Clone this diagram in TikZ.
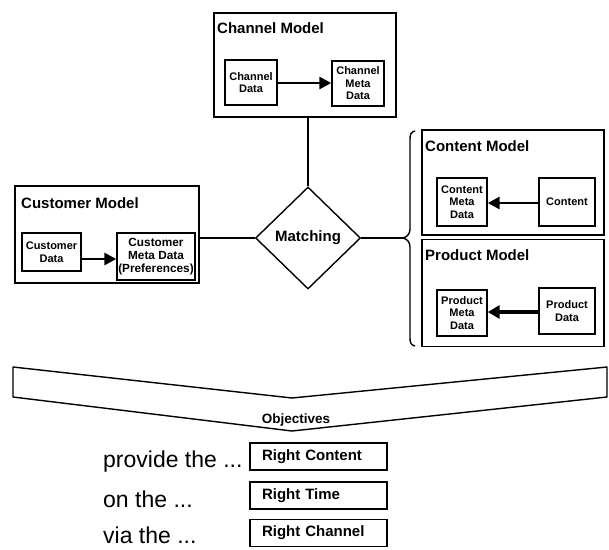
\documentclass[tikz,border=0pt]{standalone}
\usepackage{fontspec}
\setmainfont{Liberation Sans}
\usetikzlibrary{shapes.geometric,arrows.meta}
\tikzset{
  modelbox/.style={draw, line width=1.6pt, inner sep=0pt},
  databox/.style={draw, line width=1.4pt, inner sep=0pt, align=center,
    font=\bfseries\fontsize{11}{12.5}\selectfont},
  title/.style={anchor=west, inner sep=0pt, font=\bfseries\fontsize{15}{17}\selectfont},
  arr/.style={line width=2.8pt, -{Triangle[length=12pt,width=12pt]}},
  thickarr/.style={line width=3.8pt, -{Triangle[length=12pt,width=13pt]}},
  link/.style={line width=1.4pt},
  goalbox/.style={draw, line width=1.4pt, minimum width=137pt, minimum height=27pt,
    inner sep=0pt, text width=113pt, align=left, font=\bfseries\fontsize{15}{17}\selectfont},
  phrase/.style={anchor=west, inner sep=0pt, font=\fontsize{23}{26}\selectfont},
}
\begin{document}
\begin{tikzpicture}[x=1pt,y=-1pt]
\useasboundingbox (0,0) rectangle (609,549);

% Channel model
\node[modelbox, minimum width=182pt, minimum height=104pt] (chbox) at (305,65) {};
\node[title] (chtitle) at (217,28) {Channel Model};
\node[databox, minimum width=52pt, minimum height=45pt] (chd) at (251,82.5) {Channel\\Data};
\node[databox, minimum width=52pt, minimum height=45pt] (chm) at (358,83.5) {Channel\\Meta\\Data};
\coordinate (ych) at (0,83);
\draw[arr] (chd.east |- ych) -- (chm.west |- ych);

% Customer model
\node[modelbox, minimum width=184pt, minimum height=97pt] (cubox) at (107,234.5) {};
\node[title] (cutitle) at (21,203) {Customer Model};
\node[databox, minimum width=59pt, minimum height=38pt] (cud) at (51.5,252) {Customer\\Data};
\node[databox, minimum width=78pt, minimum height=47pt, font=\bfseries\fontsize{11.8}{13}\selectfont] (cum) at (156,256.5) {Customer\\Meta Data\\(Preferences)};
\coordinate (ycu) at (0,259);
\draw[arr] (cud.east |- ycu) -- (cum.west |- ycu);

% Content model
\node[modelbox, minimum width=182pt, minimum height=105pt] (cobox) at (513,182.5) {};
\node[title] (cotitle) at (425,146) {Content Model};
\node[databox, minimum width=50pt, minimum height=48pt] (com) at (462,202) {Content\\Meta\\Data};
\node[databox, minimum width=56pt, minimum height=48pt] (con) at (567,202) {Content};
\coordinate (yco) at (0,203);
\draw[arr] (con.west |- yco) -- (com.east |- yco);

% Product model
\node[modelbox, minimum width=182pt, minimum height=107pt] (prbox) at (513,293) {};
\node[title] (prtitle) at (425,255) {Product Model};
\node[databox, minimum width=50pt, minimum height=46pt] (prm) at (462,313) {Product\\Meta\\Data};
\node[databox, minimum width=56pt, minimum height=46pt] (prd) at (567,311) {Product\\Data};
\coordinate (ypr) at (0,312);
\draw[thickarr] (prd.west |- ypr) -- (prm.east |- ypr);

% Matching
\node[diamond, draw, line width=1.4pt, minimum width=105pt, minimum height=102pt,
      inner sep=0pt, font=\bfseries\fontsize{15}{17}\selectfont] (match) at (308,238) {Matching};

% Brace grouping content and product models
\coordinate (brtip) at (403,238);
\draw[link] (415,131) .. controls (411,132) and (410,134) .. (410,139)
  -- (410,229) .. controls (410,234) and (407,237) .. (brtip)
  .. controls (407,239) and (410,242) .. (410,247)
  -- (410,338) .. controls (410,343) and (411,345) .. (415,346);

% Connectors
\draw[link] (match.north |- chbox.south) -- (match.north);
\draw[link] (cubox.east |- match.west) -- (match.west);
\draw[link] (match.east) -- (brtip);

% Objectives band
\draw[link, line join=round] (13,367) -- (292,398) -- (607,367) -- (607,397)
  -- (292,431) -- (13,397) -- cycle;
\node[inner sep=0pt, font=\bfseries\fontsize{13.5}{15}\selectfont] (obj) at (296,420) {Objectives};

% Objectives list
\node[phrase] (p1) at (103,462) {provide the ...};
\node[phrase] (p2) at (103,499) {on the ...};
\node[phrase] (p3) at (103,535) {via the ...};
\node[goalbox] (g1) at (318.5,456.5) {Right Content};
\node[goalbox] (g2) at (318.5,495.5) {Right Time};
\node[goalbox] (g3) at (318.5,533) {Right Channel};
\end{tikzpicture}
\end{document}
